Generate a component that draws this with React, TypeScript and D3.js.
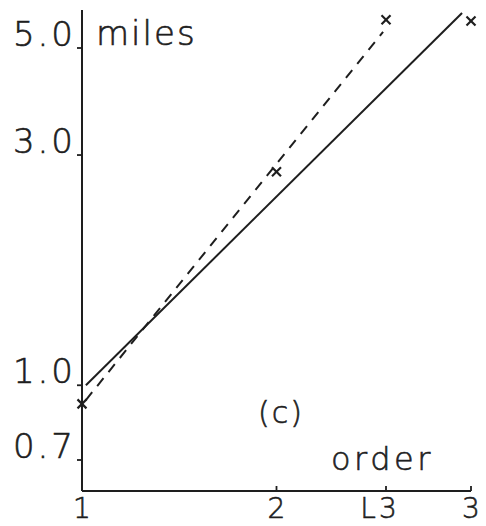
import React from "react";
import * as d3 from "d3";

// Order on the x axis, miles (log scale) on the y axis
const xTickValues = [1, 2, 2.563, 3];
const xTickLabels = ["1", "2", "L3", "3"];
const yTickValues = [0.7, 1.0, 3.0, 5.0];
const yTickLabels = ["0.7", "1.0", "3.0", "5.0"];

// Observed points (crosses)
const obsOrder = [1, 2, 2.563, 3];
const obsMiles = [0.915, 2.77, 5.72, 5.69];

// Fitted lines: solid and dashed
const solidOrder = [1.02, 2.954];
const solidMiles = [1.0, 5.91];
const dashedOrder = [1.02, 2.548];
const dashedMiles = [0.932, 5.4];

const W = 486;
const H = 526;
const INK = "#1e1e1e";
const FONT = "'DejaVu Sans', 'Liberation Sans', sans-serif";

export default function App() {
  const x = d3.scaleLinear().domain([1, 3]).range([82, 471]);
  const y = d3.scaleLog().domain([0.7, 5.0]).range([460, 48]);
  const yBottom = 491;
  const yTop = 10;

  const line = d3
    .line<[number, number]>()
    .x((d) => x(d[0]))
    .y((d) => y(d[1]));

  const solid: [number, number][] = solidOrder.map((o, i) => [o, solidMiles[i]]);
  const dashed: [number, number][] = dashedOrder.map((o, i) => [o, dashedMiles[i]]);

  const textStyle = {
    fill: INK,
    stroke: INK,
    strokeWidth: 0.6,
    fontWeight: 200,
  } as const;

  return (
    <svg
      width={W}
      height={H}
      style={{ position: "absolute", left: 0, top: 0, background: "#fff" }}
      fontFamily={FONT}
    >
      <rect width={W} height={H} fill="#fff" />
      {/* axes */}
      <line x1={x(1)} y1={yTop} x2={x(1)} y2={yBottom} stroke={INK} strokeWidth={2} />
      <line x1={x(1)} y1={yBottom} x2={x(3)} y2={yBottom} stroke={INK} strokeWidth={2} />

      {/* y ticks */}
      {yTickValues.map((v, i) => (
        <g key={"y" + i}>
          <line x1={x(1) - 5} x2={x(1)} y1={y(v)} y2={y(v)} stroke={INK} strokeWidth={1.8} />
          <text
            x={x(1) - 6}
            y={y(v) - 2}
            textAnchor="end"
            fontSize={34}
            letterSpacing={3}
            {...textStyle}
          >
            {yTickLabels[i]}
          </text>
        </g>
      ))}

      {/* x ticks */}
      {xTickValues.map((v, i) => (
        <g key={"x" + i}>
          {i > 0 && (
            <line x1={x(v)} x2={x(v)} y1={yBottom - 5} y2={yBottom} stroke={INK} strokeWidth={1.8} />
          )}
          <text
            x={x(v) + (i === 2 ? -6 : 0)}
            y={yBottom + 27}
            textAnchor="middle"
            fontSize={28}
            letterSpacing={i === 2 ? 3 : 0}
            {...textStyle}
          >
            {xTickLabels[i]}
          </text>
        </g>
      ))}

      {/* axis titles and panel label */}
      <text x={96} y={45} fontSize={34} letterSpacing={2} {...textStyle}>
        miles
      </text>
      <text x={331} y={470} fontSize={32} letterSpacing={3.5} {...textStyle}>
        order
      </text>
      <text x={258} y={423} fontSize={30} letterSpacing={2} {...textStyle}>
        (c)
      </text>

      {/* fitted lines */}
      <path d={line(solid) ?? ""} fill="none" stroke={INK} strokeWidth={2} />
      <path
        d={line(dashed) ?? ""}
        fill="none"
        stroke={INK}
        strokeWidth={2}
        strokeDasharray="10,8"
      />

      {/* observed crosses */}
      {obsOrder.map((o, i) => {
        const cx = x(o);
        const cy = y(obsMiles[i]);
        const r = 4.5;
        return (
          <g key={"p" + i} stroke={INK} strokeWidth={2.2}>
            <line x1={cx - r} y1={cy - r} x2={cx + r} y2={cy + r} />
            <line x1={cx - r} y1={cy + r} x2={cx + r} y2={cy - r} />
          </g>
        );
      })}
    </svg>
  );
}
